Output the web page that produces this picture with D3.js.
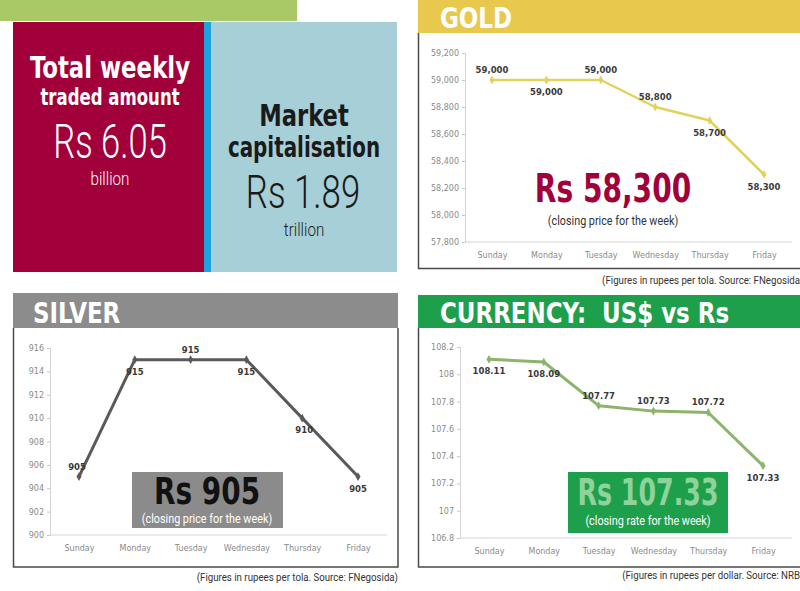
<!DOCTYPE html>
<html>
<head>
<meta charset="utf-8">
<script src="https://cdn.jsdelivr.net/npm/d3@7"></script>
<style>
  body { margin: 0; background: #fff; }
  svg { display: block; }
</style>
</head>
<body>
<script>
// weekly market numbers
const days = ["Sunday", "Monday", "Tuesday", "Wednesday", "Thursday", "Friday"];

const goldPrice = [59000, 59000, 59000, 58800, 58700, 58300];
const goldTicks = [57800, 58000, 58200, 58400, 58600, 58800, 59000, 59200];

const silverPrice = [905, 915, 915, 915, 910, 905];
const silverTicks = [900, 902, 904, 906, 908, 910, 912, 914, 916];

const usdRate = [108.11, 108.09, 107.77, 107.73, 107.72, 107.33];
const usdTicks = [106.8, 107, 107.2, 107.4, 107.6, 107.8, 108, 108.2];

const tradedAmount = "Rs 6.05";
const marketCap = "Rs 1.89";

const width = 800, height = 591;

const svg = d3.select("body").append("svg")
    .attr("width", width)
    .attr("height", height);

const condensed = "'DejaVu Sans Condensed', 'DejaVu Sans', sans-serif";
const light = "Roboto, 'Open Sans', sans-serif";

// ---------- top left: totals ----------
svg.append("rect").attr("x", 0).attr("y", 0).attr("width", 297).attr("height", 21).attr("fill", "#a8c965");
svg.append("rect").attr("x", 13).attr("y", 22).attr("width", 192).attr("height", 250).attr("fill", "#a1003a");
svg.append("rect").attr("x", 204).attr("y", 22).attr("width", 7).attr("height", 250).attr("fill", "#1ea3df");
svg.append("rect").attr("x", 211).attr("y", 22).attr("width", 186).attr("height", 250).attr("fill", "#a7cfd7");

function bigText(x, y, txt, size, weight, color, family, sx) {
  svg.append("text")
      .attr("transform", `translate(${x},${y}) scale(${sx},1)`)
      .attr("text-anchor", "middle")
      .attr("font-family", family)
      .attr("font-weight", weight)
      .attr("font-size", size)
      .attr("fill", color)
      .text(txt);
}

bigText(110, 78, "Total weekly", 31, "bold", "#fff", condensed, 0.82);
bigText(110, 105, "traded amount", 23, "bold", "#fff", condensed, 0.8);
bigText(110, 158, tradedAmount, 48, 300, "#fff", light, 0.72);
bigText(110, 185, "billion", 19, 300, "#fff", light, 0.8);

bigText(304, 126, "Market", 30, "bold", "#1a1a1a", condensed, 0.84);
bigText(304, 157, "capitalisation", 28, "bold", "#1a1a1a", condensed, 0.79);
bigText(303, 208, marketCap, 47, 300, "#1a1a1a", light, 0.74);
bigText(304, 236, "trillion", 19, 300, "#1a1a1a", light, 0.8);

// ---------- line chart panels ----------
function panel(cfg) {
  const g = svg.append("g");

  // header band + title
  g.append("rect")
      .attr("x", cfg.box[0]).attr("y", cfg.head[0])
      .attr("width", cfg.box[1] - cfg.box[0]).attr("height", cfg.head[1] - cfg.head[0])
      .attr("fill", cfg.headColor);
  g.append("text")
      .attr("transform", `translate(${cfg.titleX},${cfg.head[1] - 5}) scale(0.88,1)`)
      .attr("font-family", condensed)
      .attr("font-weight", "bold")
      .attr("font-size", 29)
      .attr("fill", "#fff")
      .text(cfg.title);

  // frame
  g.append("path")
      .attr("d", cfg.frame)
      .attr("fill", "none")
      .attr("stroke", "#4a4a4a")
      .attr("stroke-width", 1.5);

  const x = d3.scalePoint().domain(days).range(cfg.xRange);
  const y = d3.scaleLinear().domain(d3.extent(cfg.ticks)).range(cfg.yRange);

  // y axis
  const yAxis = g.append("g")
      .attr("transform", `translate(${cfg.axisX},0)`)
      .call(d3.axisLeft(y).tickValues(cfg.ticks).tickFormat(cfg.fmt).tickSize(3).tickPadding(3));
  yAxis.select(".domain").attr("stroke", "#d4d4d4");
  yAxis.selectAll(".tick line").attr("stroke", "#c8c8c8");
  yAxis.selectAll("text").attr("fill", "#8a8a8a").attr("font-size", 8)
      .attr("font-family", "'DejaVu Sans', sans-serif");

  // x axis
  const xAxis = g.append("g")
      .attr("transform", `translate(0,${cfg.yRange[0]})`)
      .call(d3.axisBottom(x).tickSize(0).tickPadding(10));
  xAxis.select(".domain").remove();
  g.append("line")
      .attr("x1", cfg.axisX).attr("x2", cfg.baseEnd)
      .attr("y1", cfg.yRange[0]).attr("y2", cfg.yRange[0])
      .attr("stroke", "#d4d4d4");
  xAxis.selectAll("text").attr("fill", "#8a8a8a").attr("font-size", 8)
      .attr("font-family", "'DejaVu Sans', sans-serif");

  // line + markers
  const pts = days.map((d, i) => [d, cfg.values[i]]);
  g.append("path")
      .datum(pts)
      .attr("fill", "none")
      .attr("stroke", cfg.lineColor)
      .attr("stroke-width", cfg.lineWidth)
      .attr("stroke-linejoin", "round")
      .attr("d", d3.line().x(d => x(d[0])).y(d => y(d[1])));
  g.selectAll(".mk").data(pts).enter().append("path")
      .attr("transform", d => `translate(${x(d[0])},${y(d[1])})`)
      .attr("d", d3.symbol(d3.symbolDiamond, 22))
      .attr("fill", cfg.lineColor);

  // value labels
  g.selectAll(".lbl").data(pts).enter().append("text")
      .attr("x", (d, i) => x(d[0]) + (cfg.labelDx ? cfg.labelDx[i] : 0))
      .attr("y", (d, i) => y(d[1]) + (cfg.labelSide[i] < 0 ? -7 : 15))
      .attr("text-anchor", "middle")
      .attr("font-family", "'DejaVu Sans', sans-serif")
      .attr("font-weight", "bold")
      .attr("font-size", 8.5)
      .attr("fill", "#3a3a3a")
      .text(d => cfg.valFmt(d[1]));

  // callout
  const last = cfg.values[cfg.values.length - 1];
  if (cfg.callBox) {
    g.append("rect")
        .attr("x", cfg.callBox[0]).attr("y", cfg.callBox[1])
        .attr("width", cfg.callBox[2]).attr("height", cfg.callBox[3])
        .attr("fill", cfg.callFill);
  }
  g.append("text")
      .attr("transform", `translate(${cfg.callX},${cfg.callY}) scale(${cfg.callScale},1)`)
      .attr("text-anchor", "middle")
      .attr("font-family", condensed)
      .attr("font-weight", "bold")
      .attr("font-size", cfg.callSize)
      .attr("fill", cfg.callColor)
      .text("Rs " + cfg.callFmt(last));
  g.append("text")
      .attr("transform", `translate(${cfg.callX},${cfg.subY}) scale(0.9,1)`)
      .attr("text-anchor", "middle")
      .attr("font-family", light)
      .attr("font-size", 12)
      .attr("fill", cfg.subColor)
      .text(cfg.sub);

  // source line
  g.append("text")
      .attr("transform", `translate(${cfg.srcX},${cfg.srcY}) scale(0.88,1)`)
      .attr("text-anchor", "end")
      .attr("font-family", light)
      .attr("font-size", 11)
      .attr("fill", "#333")
      .text(cfg.source);
}

panel({
  title: "GOLD", titleX: 440, headColor: "#e8c94e",
  box: [418, 800], head: [0, 33],
  frame: "M418.5,33 V268.5 H800",
  values: goldPrice, ticks: goldTicks, fmt: d3.format(","), valFmt: d3.format(","),
  xRange: [492, 764], yRange: [242, 53], axisX: 465, baseEnd: 792,
  lineColor: "#e4d15c", lineWidth: 2.5,
  labelSide: [-1, 1, -1, -1, 1, 1],
  callX: 613, callY: 202, callSize: 39, callScale: 0.8, callColor: "#a1003a", callFmt: d3.format(","),
  subY: 225, sub: "(closing price for the week)", subColor: "#333",
  srcX: 800, srcY: 284, source: "(Figures in rupees per tola. Source: FNegosida"
});

panel({
  title: "SILVER", titleX: 33, headColor: "#8c8c8c",
  box: [13, 398], head: [293, 328],
  frame: "M13.5,328 V567 H398 V328",
  values: silverPrice, ticks: silverTicks, fmt: d3.format("d"), valFmt: d3.format("d"),
  xRange: [79, 358], yRange: [535, 348], axisX: 50, baseEnd: 387,
  lineColor: "#5a5a5a", lineWidth: 3,
  labelSide: [-1, 1, -1, 1, 1, 1], labelDx: [-2, 0, 0, 0, 2, 0],
  callBox: [132, 472, 151, 56], callFill: "#8b8b8b",
  callX: 207, callY: 504, callSize: 37, callScale: 0.84, callColor: "#111", callFmt: d3.format("d"),
  subY: 523, sub: "(closing price for the week)", subColor: "#fff",
  srcX: 398, srcY: 581, source: "(Figures in rupees per tola. Source: FNegosida)"
});

panel({
  title: "CURRENCY:\u00a0 US$ vs Rs", titleX: 440, headColor: "#1e9f4c",
  box: [418, 800], head: [295, 328],
  frame: "M418.5,328 V567 H800",
  values: usdRate, ticks: usdTicks, fmt: d3.format(""), valFmt: d3.format(".2f"),
  xRange: [489, 763], yRange: [538, 347], axisX: 460, baseEnd: 792,
  lineColor: "#8cb46a", lineWidth: 3,
  labelSide: [1, 1, -1, -1, -1, 1],
  callBox: [568, 472, 160, 61], callFill: "#1e9f4c",
  callX: 648, callY: 505, callSize: 37, callScale: 0.76, callColor: "#8fd39c", callFmt: d3.format(".2f"),
  subY: 525, sub: "(closing rate for the week)", subColor: "#fff",
  srcX: 800, srcY: 579, source: "(Figures in rupees per dollar. Source: NRB"
});
</script>
</body>
</html>
